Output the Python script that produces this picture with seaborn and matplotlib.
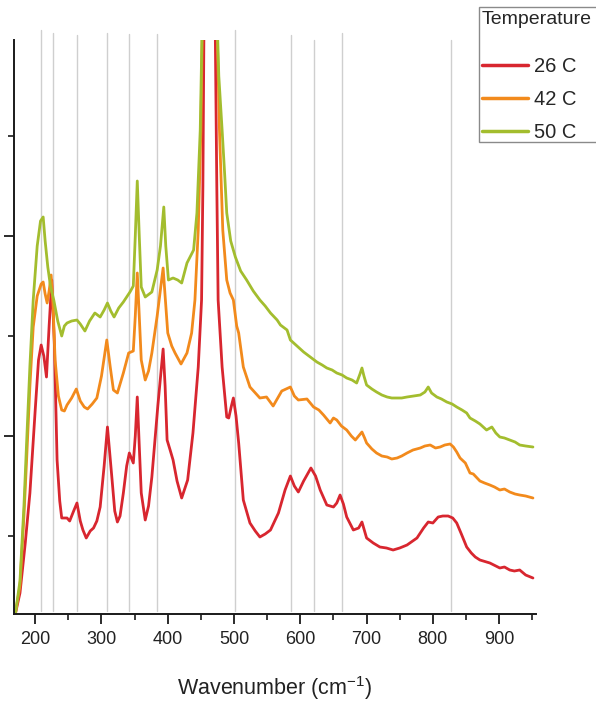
import numpy as np
import pandas as pd
import matplotlib
matplotlib.use("Agg")
import matplotlib.pyplot as plt
from matplotlib import font_manager
from matplotlib.patches import Rectangle
from matplotlib.ticker import MultipleLocator, NullFormatter
import seaborn as sns

# Raman spectra recorded at three temperatures (arbitrary intensity units)
wn_26 = [170, 177, 185, 192, 200, 205, 209, 213, 217, 221, 225, 229, 233, 237, 240, 248, 252, 258,
         263, 268, 272, 277, 283, 288, 293, 298, 304, 309, 316, 320, 324, 328, 333, 338, 342, 348,
         351, 354, 357, 360, 366, 371, 376, 385, 393, 396, 399, 404, 408, 414, 421, 430, 438, 446,
         451, 453, 455, 464, 471, 474, 476, 482, 489, 492, 496, 499, 503, 507, 514, 524, 532, 539,
         547, 555, 567, 577, 585, 591, 597, 605, 616, 623, 630, 640, 650, 655, 660, 665, 670, 680,
         688, 693, 700, 710, 720, 730, 740, 750, 761, 776, 786, 793, 800, 808, 815, 823, 830, 836,
         843, 851, 858, 864, 871, 886, 895, 901, 908, 916, 923, 931, 940, 951]
int_26 = [220, 430, 930, 1430, 2260, 2760, 2910, 2800, 2590, 3100, 3560, 2900, 1760, 1350, 1180, 1180, 1150, 1250,
          1330, 1150, 1060, 980, 1050, 1080, 1150, 1290, 1700, 2090, 1560, 1250, 1140, 1200, 1430, 1700, 1830, 1730,
          2000, 2390, 1900, 1430, 1160, 1300, 1590, 2300, 2870, 2500, 1960, 1850, 1760, 1550, 1380, 1560, 2030, 2690,
          3360, 4500, 6500, 14000, 6500, 4500, 3360, 2690, 2190, 2180, 2300, 2380, 2200, 1930, 1360, 1130, 1050, 990,
          1020, 1060, 1230, 1460, 1600, 1500, 1440, 1550, 1680, 1600, 1460, 1310, 1290, 1330, 1410, 1320, 1190, 1060,
          1080, 1140, 980, 930, 890, 880, 860, 880, 910, 980, 1080, 1140, 1130, 1190, 1200, 1200, 1180, 1130,
          1020, 890, 830, 790, 760, 730, 700, 680, 690, 660, 650, 660, 610, 580]

wn_42 = [170, 177, 183, 187, 192, 197, 203, 209, 212, 215, 218, 221, 224, 227, 230, 235, 240, 244, 248,
         255, 262, 268, 274, 279, 286, 293, 300, 308, 313, 318, 324, 333, 341, 348, 351, 354, 357, 360,
         366, 371, 376, 384, 393, 396, 400, 406, 411, 420, 429, 436, 441, 446, 450, 453, 464, 473, 478,
         483, 489, 494, 499, 504, 507, 514, 524, 539, 549, 559, 572, 585, 591, 597, 610, 620, 628, 635,
         645, 650, 655, 662, 670, 677, 683, 688, 693, 697, 700, 708, 715, 723, 731, 738, 746, 753, 761,
         770, 781, 788, 796, 804, 811, 818, 826, 831, 836, 841, 849, 856, 861, 871, 878, 886, 893, 901,
         908, 916, 924, 931, 940, 951]
int_42 = [220, 500, 1200, 1760, 2500, 3090, 3400, 3520, 3540, 3420, 3330, 3450, 3610, 3300, 2760, 2400, 2260, 2250, 2310,
          2380, 2470, 2350, 2290, 2270, 2320, 2380, 2600, 2960, 2700, 2460, 2430, 2630, 2830, 2850, 3200, 3630, 3200, 2760,
          2560, 2650, 2830, 3200, 3680, 3400, 3030, 2900, 2830, 2720, 2830, 3030, 3360, 4060, 5060, 6500, 14000, 6500, 5060,
          4060, 3560, 3430, 3360, 3100, 3030, 2690, 2490, 2380, 2390, 2300, 2450, 2490, 2400, 2360, 2370, 2290, 2260, 2210,
          2130, 2180, 2160, 2100, 2060, 2000, 1960, 2000, 2040, 1980, 1930, 1870, 1830, 1800, 1790, 1770, 1780, 1800, 1830,
          1860, 1880, 1900, 1910, 1880, 1890, 1910, 1920, 1890, 1840, 1780, 1730, 1630, 1620, 1550, 1530, 1510, 1490, 1460,
          1470, 1440, 1420, 1410, 1400, 1380]

wn_50 = [170, 177, 183, 187, 192, 197, 203, 208, 212, 215, 219, 223, 228, 234, 240, 244, 248, 255, 263,
         268, 275, 282, 290, 298, 304, 309, 314, 319, 326, 333, 343, 348, 351, 354, 357, 360, 366, 376,
         384, 389, 394, 397, 401, 408, 415, 421, 429, 439, 444, 449, 453, 464, 473, 477, 482, 486, 489,
         495, 502, 510, 519, 529, 539, 547, 555, 565, 570, 580, 585, 595, 605, 615, 625, 633, 640, 648,
         655, 663, 670, 678, 685, 690, 693, 696, 700, 708, 715, 723, 731, 738, 746, 753, 761, 771, 781,
         788, 793, 798, 806, 813, 821, 829, 836, 844, 851, 856, 864, 871, 881, 889, 895, 901, 908, 916,
         924, 931, 940, 951]
int_50 = [220, 550, 1300, 1930, 2700, 3360, 3900, 4150, 4190, 3950, 3690, 3500, 3360, 3150, 3000, 3100, 3130, 3150, 3160,
          3120, 3050, 3150, 3230, 3190, 3260, 3330, 3250, 3190, 3280, 3340, 3440, 3500, 4000, 4550, 4000, 3490, 3390, 3440,
          3660, 3900, 4290, 3900, 3560, 3580, 3560, 3530, 3730, 3860, 4230, 5060, 6500, 14000, 6500, 5600, 5060, 4600, 4230,
          3950, 3790, 3650, 3560, 3450, 3360, 3300, 3230, 3160, 3110, 3060, 2960, 2900, 2840, 2790, 2740, 2710, 2680, 2660,
          2630, 2610, 2580, 2560, 2530, 2620, 2680, 2600, 2510, 2470, 2440, 2410, 2390, 2380, 2380, 2380, 2390, 2400, 2410,
          2440, 2490, 2430, 2390, 2370, 2340, 2320, 2290, 2260, 2230, 2180, 2150, 2120, 2060, 2090, 2030, 1990, 1980, 1960,
          1940, 1910, 1900, 1890]

temperatures = ["26 C", "42 C", "50 C"]
colors = ["#d8262f", "#f28a1c", "#a3bd2e"]

# Reference band positions (cm^-1) marked with thin vertical rules
band_positions = [209, 227, 263, 309, 341, 384, 501, 586, 621, 663, 828]
band_tops = [1.017, 1.012, 1.008, 1.012, 1.010, 1.010, 1.017, 1.008, 1.000, 1.012, 1.000]

x_ticks = [200, 300, 400, 500, 600, 700, 800, 900]

frames = []
for label, wn, inten in [(temperatures[0], wn_26, int_26),
                         (temperatures[1], wn_42, int_42),
                         (temperatures[2], wn_50, int_50)]:
    frames.append(pd.DataFrame({"Wavenumber": wn, "Intensity": inten, "Temperature": label}))
df = pd.concat(frames, ignore_index=True)

sns.set_style("white")
names = {f.name for f in font_manager.fontManager.ttflist}
family = "Liberation Sans Narrow" if "Liberation Sans Narrow" in names else "Liberation Sans"
plt.rcParams["font.family"] = [family, "DejaVu Sans"]
plt.rcParams["mathtext.fontset"] = "custom"
plt.rcParams["mathtext.rm"] = family

W, H = 596, 706
fig = plt.figure(figsize=(W / 100, H / 100), dpi=100)
ax = fig.add_axes([14 / W, 92 / H, 521.6 / W, 574 / H])

for xb, top in zip(band_positions, band_tops):
    ax.axvline(xb, ymin=0.005, ymax=top, color="#cfcfcf", lw=1.0, zorder=0.5, clip_on=False)

sns.lineplot(data=df, x="Wavenumber", y="Intensity", hue="Temperature",
             hue_order=temperatures, palette=colors, estimator=None, sort=False,
             linewidth=2.0, ax=ax, legend=True)

ax.set_xlim(168, 955)
ax.set_ylim(220, 5960)

ax.set_xticks(x_ticks)
ax.xaxis.set_minor_locator(MultipleLocator(50))
ax.yaxis.set_major_locator(MultipleLocator(2000))
ax.yaxis.set_minor_locator(MultipleLocator(1000))
ax.yaxis.set_major_formatter(NullFormatter())

for side in ["top", "right"]:
    ax.spines[side].set_visible(False)
for side in ["left", "bottom"]:
    ax.spines[side].set_color("#1a1a1a")
    ax.spines[side].set_linewidth(1.4)

ax.tick_params(axis="both", which="major", direction="out", length=7, width=1.3,
               color="#1a1a1a", labelsize=13, labelcolor="#222222", pad=5)
ax.tick_params(axis="both", which="minor", direction="out", length=4.5, width=1.2,
               color="#1a1a1a")
ax.tick_params(axis="x", which="both", bottom=True)
ax.tick_params(axis="y", which="both", left=True)

ax.set_ylabel("")
ax.set_xlabel("Wavenumber (cm$^{-1}$)", fontsize=15.5, color="#222222", labelpad=19)

# Legend box runs off the right edge of the figure
fig.patches.append(Rectangle((479 / W, 1 - 142 / H), 140 / W, 135 / H,
                             transform=fig.transFigure, facecolor="white",
                             edgecolor="#8a8a8a", linewidth=1.0, zorder=3))

handles, labels = ax.get_legend_handles_labels()
ax.get_legend().remove()
leg = fig.legend(handles, labels, title="Temperature", loc="upper left",
                 bbox_to_anchor=(480 / W, 1 - 9 / H), bbox_transform=fig.transFigure,
                 fontsize=14.5, title_fontsize=14, frameon=False,
                 borderpad=0.1, handlelength=2.3,
                 handletextpad=0.3, labelspacing=0.68, borderaxespad=0)
leg.set_zorder(5)
leg._legend_box.align = "left"
leg._legend_box.sep = 21
for line in leg.get_lines():
    line.set_linewidth(2.5)

fig.savefig("out.png", dpi=100, facecolor="white")
